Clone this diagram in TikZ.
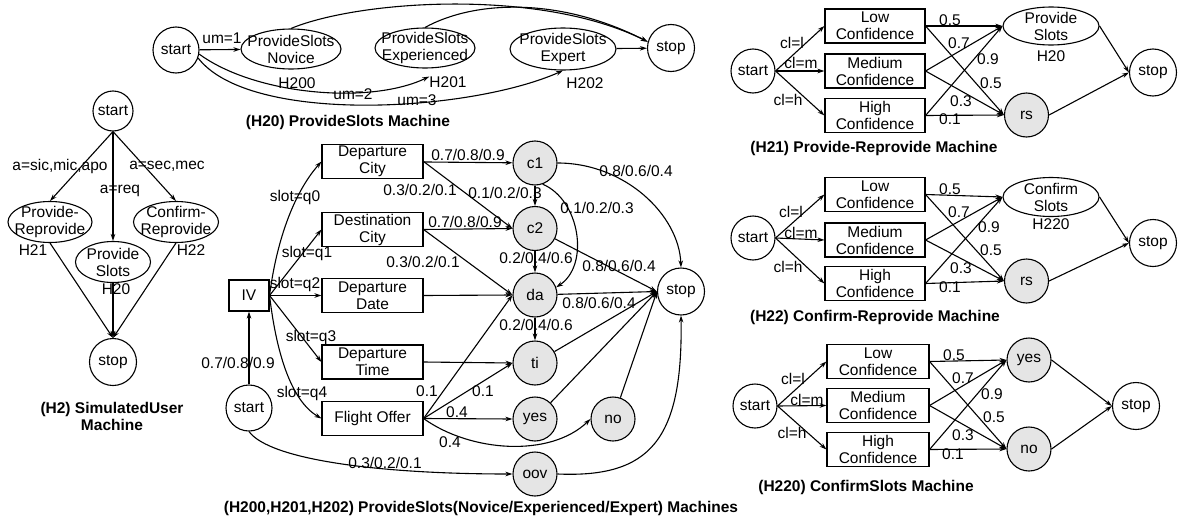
\documentclass[tikz,border=0pt]{standalone}
\usepackage{fontspec}
\setmainfont{Liberation Sans}
\usetikzlibrary{shapes.geometric, arrows.meta}
\definecolor{stategray}{gray}{0.9}

\begin{document}
\begin{tikzpicture}[
	x=1pt, y=-1pt,
	font=\fontsize{15.5}{17}\selectfont,
	nodes = {
		align = center
	},
	lines/.style={
		line width=1.1pt,
		>={Stealth[length=7pt,width=4.5pt]}
	},
	state/.style={
		circle,
		draw=black,
		line width=1.1pt,
		minimum size=44pt,
		inner sep=0pt
	},
	hit/.style={
		state,
		fill=stategray
	},
	sub/.style={
		ellipse,
		draw=black,
		line width=1.1pt,
		inner xsep=-9pt,
		inner ysep=-4pt
	},
	proc/.style={
		rectangle,
		draw=black,
		line width=1.1pt,
		minimum width=101pt,
		minimum height=34pt,
		inner sep=0pt
	},
	lbl/.style={
		inner sep=0pt
	},
	caption/.style={
		font=\fontsize{15.5}{17}\selectfont\bfseries
	},
	every label/.style={
		inner sep=0pt
	}
]
	\useasboundingbox (0,0) rectangle (1178,522);

	% (H2) simulated user
	\node[state, minimum size=40pt] (u_start) at (113,111) {start};
	\node[sub, minimum width=84pt, minimum height=41pt, label={[xshift=-17pt, yshift=-1pt]below:H21}] (u_pr) at (50,222) {Provide-\\Reprovide};
	\node[sub, minimum width=75pt, minimum height=41pt, label={[xshift=3pt]below:H20}] (u_ps) at (113,262) {Provide\\Slots};
	\node[sub, minimum width=85pt, minimum height=41pt, label={[xshift=15pt, yshift=-1pt]below:H22}] (u_cr) at (176,222) {Confirm-\\Reprovide};
	\node[state, minimum size=47pt] (u_stop) at (113,362) {stop};
	\node[caption] (u_title) at (112,416) {(H2) SimulatedUser\\Machine};

	\draw[lines,->] (u_start.south) -- (u_pr.north) node[lbl] at (60,166) {a=sic,mic,apo};
	\draw[lines,->] (u_start.south) -- (u_ps.north) node[lbl] at (120,191) {a=req};
	\draw[lines,->] (u_start.south) -- (u_cr.north) node[lbl] at (167,166) {a=sec,mec};
	\draw[lines,->] (u_pr.south) -- (u_stop.north);
	\draw[lines,->] (u_ps.south) -- (u_stop.north);
	\draw[lines,->] (u_cr.south) -- (u_stop.north);

	% (H20) provide slots
	\node[state, minimum size=46pt] (h_start) at (176,50) {start};
	\node[sub, minimum width=100pt, minimum height=40pt, label={[xshift=6pt, yshift=-8pt]below:H200}] (h_nov) at (291,49) {ProvideSlots\\Novice};
	\node[sub, minimum width=100pt, minimum height=40pt, label={[xshift=23pt, yshift=-8pt, name=h_exp_id]below:H201}] (h_exp) at (425,48) {ProvideSlots\\Experienced};
	\node[sub, minimum width=106pt, minimum height=42pt, label={[xshift=22pt, yshift=-7pt]below:H202}] (h_expert) at (563,49) {ProvideSlots\\Expert};
	\node[state, minimum size=47pt] (h_stop) at (671,48) {stop};
	\node[caption] (h_title) at (348,122) {(H20) ProvideSlots Machine};

	\draw[lines,->] (h_start) -- (h_nov) node[lbl] at (222,38) {um=1};
	\draw[lines,->] (h_start.-10) .. controls (255,95) and (370,105) .. (h_exp_id.north west) node[lbl] at (353,94) {um=2};
	\draw[lines,->] (h_start.-20) .. controls (250,125) and (470,112) .. (h_expert.south) node[lbl] at (417,100) {um=3};
	\draw[lines,->] (h_nov.north) .. controls (360,0) and (540,-12) .. (h_stop.165);
	\draw[lines,->] (h_exp.north) .. controls (475,0) and (560,-3) .. (h_stop.165);
	\draw[lines,->] (h_expert) -- (h_stop);

	% (H200,H201,H202) slot filling
	\node[proc, minimum width=40pt, minimum height=31pt] (p_iv) at (249,295.5) {IV};
	\node[state, minimum size=46pt] (p_start) at (249,408) {start};
	\node[proc] (p_depcity) at (372.5,161.5) {Departure\\City};
	\node[proc] (p_destcity) at (372.5,229.5) {Destination\\City};
	\node[proc] (p_depdate) at (372.5,295.5) {Departure\\Date};
	\node[proc] (p_deptime) at (372.5,362) {Departure\\Time};
	\node[proc] (p_offer) at (372.5,418.5) {Flight Offer};
	\node[hit] (p_c1) at (535,163) {c1};
	\node[hit] (p_c2) at (535,228.5) {c2};
	\node[hit] (p_da) at (535,295) {da};
	\node[hit] (p_ti) at (535,363) {ti};
	\node[hit] (p_yes) at (535,419) {yes};
	\node[hit] (p_no) at (613,419) {no};
	\node[hit] (p_oov) at (535,474) {oov};
	\node[state, minimum size=47pt] (p_stop) at (681,291.5) {stop};
	\node[caption] (p_title) at (481,508) {(H200,H201,H202) ProvideSlots(Novice/Experienced/Expert) Machines};

	\draw[lines,->] (p_start) -- (p_iv) node[lbl] at (238,363) {0.7/0.8/0.9};
	\draw[lines,->] (p_iv.east) .. controls (276,245) and (292,195) .. (p_depcity.west) node[lbl] at (295,197) {slot=q0};
	\draw[lines,->] (p_iv.east) -- (p_destcity.west) node[lbl] at (307,253) {slot=q1};
	\draw[lines,->] (p_iv.east) -- (p_depdate.west) node[lbl] at (295,284) {slot=q2};
	\draw[lines,->] (p_iv.east) -- (p_deptime.west) node[lbl] at (311,337) {slot=q3};
	\draw[lines,->] (p_iv.east) .. controls (276,350) and (290,400) .. (p_offer.west) node[lbl] at (302,393) {slot=q4};

	\draw[lines,->] (p_depcity) -- (p_c1) node[lbl] at (468,155) {0.7/0.8/0.9};
	\draw[lines,->] (p_depcity.east) -- (p_c2.west) node[lbl] at (420,190) {0.3/0.2/0.1};
	\draw[lines,->] (p_destcity.east) -- (p_c2.west) node[lbl] at (465,222) {0.7/0.8/0.9};
	\draw[lines,->] (p_destcity.east) -- (p_da.west) node[lbl] at (423,262) {0.3/0.2/0.1};
	\draw[lines,->] (p_depdate.east) -- (p_da.west);
	\draw[lines,->] (p_deptime.east) -- (p_ti.west);
	\draw[lines,->] (p_offer.east) -- (p_da.west) node[lbl] at (427,391) {0.1};
	\draw[lines,->] (p_offer.east) -- (p_ti.west) node[lbl] at (483,391) {0.1};
	\draw[lines,->] (p_offer.east) -- (p_yes.west) node[lbl] at (457,412) {0.4};
	\draw[lines,->] (p_offer.east) .. controls (470,452) and (550,458) .. (p_no.west) node[lbl] at (450,442) {0.4};

	\draw[lines,->] (p_c1) -- (p_c2) node[lbl] at (505,193) {0.1/0.2/0.3};
	\draw[lines,->] (p_c1.-70) .. controls (580,200) and (590,265) .. (p_da.20) node[lbl] at (597,208) {0.1/0.2/0.3};
	\draw[lines,->] (p_c1.east) .. controls (625,163) and (679,215) .. (p_stop.north) node[lbl] at (636,171) {0.8/0.6/0.4};
	\draw[lines,->] (p_c2) -- (p_da) node[lbl] at (536,258) {0.2/0.4/0.6};
	\draw[lines,->] (p_c2) -- (p_stop.west) node[lbl] at (619,266) {0.8/0.6/0.4};
	\draw[lines,->] (p_da) -- (p_stop.west) node[lbl] at (599,303) {0.8/0.6/0.4};
	\draw[lines,->] (p_da) -- (p_ti) node[lbl] at (536,325) {0.2/0.4/0.6};
	\draw[lines,->] (p_ti) -- (p_stop.west);
	\draw[lines,->] (p_yes) -- (p_stop.west);
	\draw[lines,->] (p_no) -- (p_stop.west);
	\draw[lines,->] (p_oov.east) .. controls (650,478) and (683,440) .. (p_stop.south);
	\draw[lines,->] (p_start.south) .. controls (270,460) and (380,474) .. (p_oov.west) node[lbl] at (385,463) {0.3/0.2/0.1};

	% (H21) provide-reprovide
	\node[state] (r1_start) at (753,71) {start};
	\node[proc, minimum width=100pt] (r1_low) at (875,26) {Low\\Confidence};
	\node[proc, minimum width=100pt] (r1_med) at (875,71) {Medium\\Confidence};
	\node[proc, minimum width=100pt] (r1_high) at (875,115.5) {High\\Confidence};
	\node[sub, minimum width=96pt, minimum height=38pt, label={[yshift=-5pt]below:H20}] (r1_ps) at (1051,26) {Provide\\Slots};
	\node[hit] (r1_rs) at (1026.5,115) {rs};
	\node[state, minimum size=47pt] (r1_stop) at (1153,72.5) {stop};
	\node[caption] (r1_title) at (874,148) {(H21) Provide-Reprovide Machine};

	\draw[lines,->] (r1_start.east) -- (r1_low.west) node[lbl] at (792,43) {cl=l};
	\draw[lines,->] (r1_start.east) -- (r1_med.west) node[lbl] at (801,63) {cl=m};
	\draw[lines,->] (r1_start.east) -- (r1_high.west) node[lbl] at (788,100) {cl=h};
	\draw[lines,->] (r1_low.east) -- (r1_ps.west) node[lbl] at (950,20) {0.5};
	\draw[lines,->] (r1_low.east) -- (r1_rs.west) node[lbl] at (991,83) {0.5};
	\draw[lines,->] (r1_med.east) -- (r1_ps.west) node[lbl] at (959,43) {0.7};
	\draw[lines,->] (r1_med.east) -- (r1_rs.west) node[lbl] at (961,101) {0.3};
	\draw[lines,->] (r1_high.east) -- (r1_ps.west) node[lbl] at (988,59) {0.9};
	\draw[lines,->] (r1_high.east) -- (r1_rs.west) node[lbl] at (950,119) {0.1};
	\draw[lines,->] (r1_ps.east) -- (r1_stop.west);
	\draw[lines,->] (r1_rs.east) -- (r1_stop.west);

	% (H22) confirm-reprovide
	\node[state] (r2_start) at (753,238) {start};
	\node[proc, minimum width=100pt] (r2_low) at (875,194.5) {Low\\Confidence};
	\node[proc, minimum width=100pt] (r2_med) at (875,240) {Medium\\Confidence};
	\node[proc, minimum width=100pt] (r2_high) at (875,283.5) {High\\Confidence};
	\node[sub, minimum width=96pt, minimum height=39pt, label={[yshift=-1pt]below:H220}] (r2_cs) at (1051,197) {Confirm\\Slots};
	\node[hit] (r2_rs) at (1026.5,281) {rs};
	\node[state, minimum size=47pt] (r2_stop) at (1153,243) {stop};
	\node[caption] (r2_title) at (875,317) {(H22) Confirm-Reprovide Machine};

	\draw[lines,->] (r2_start.east) -- (r2_low.west) node[lbl] at (791,212) {cl=l};
	\draw[lines,->] (r2_start.east) -- (r2_med.west) node[lbl] at (801,233) {cl=m};
	\draw[lines,->] (r2_start.east) -- (r2_high.west) node[lbl] at (788,267) {cl=h};
	\draw[lines,->] (r2_low.east) -- (r2_cs.west) node[lbl] at (950,189) {0.5};
	\draw[lines,->] (r2_low.east) -- (r2_rs.west) node[lbl] at (991,250) {0.5};
	\draw[lines,->] (r2_med.east) -- (r2_cs.west) node[lbl] at (959,212) {0.7};
	\draw[lines,->] (r2_med.east) -- (r2_rs.west) node[lbl] at (961,268) {0.3};
	\draw[lines,->] (r2_high.east) -- (r2_cs.west) node[lbl] at (989,227) {0.9};
	\draw[lines,->] (r2_high.east) -- (r2_rs.west) node[lbl] at (950,287) {0.1};
	\draw[lines,->] (r2_cs.east) -- (r2_stop.west);
	\draw[lines,->] (r2_rs.east) -- (r2_stop.west);

	% (H220) confirm slots
	\node[state] (r3_start) at (755,406) {start};
	\node[proc, minimum width=102pt] (r3_low) at (878,361.5) {Low\\Confidence};
	\node[proc, minimum width=102pt] (r3_med) at (878,405.5) {Medium\\Confidence};
	\node[proc, minimum width=102pt] (r3_high) at (878,449.5) {High\\Confidence};
	\node[hit] (r3_yes) at (1029,360) {yes};
	\node[hit] (r3_no) at (1029,449) {no};
	\node[state, minimum size=47pt] (r3_stop) at (1136,406) {stop};
	\node[caption] (r3_title) at (866,487) {(H220) ConfirmSlots Machine};

	\draw[lines,->] (r3_start.east) -- (r3_low.west) node[lbl] at (793,379) {cl=l};
	\draw[lines,->] (r3_start.east) -- (r3_med.west) node[lbl] at (807,400) {cl=m};
	\draw[lines,->] (r3_start.east) -- (r3_high.west) node[lbl] at (792,433) {cl=h};
	\draw[lines,->] (r3_low.east) -- (r3_yes.west) node[lbl] at (954,355) {0.5};
	\draw[lines,->] (r3_low.east) -- (r3_no.west) node[lbl] at (994,417) {0.5};
	\draw[lines,->] (r3_med.east) -- (r3_yes.west) node[lbl] at (963,378) {0.7};
	\draw[lines,->] (r3_med.east) -- (r3_no.west) node[lbl] at (963,435) {0.3};
	\draw[lines,->] (r3_high.east) -- (r3_yes.west) node[lbl] at (992,394) {0.9};
	\draw[lines,->] (r3_high.east) -- (r3_no.west) node[lbl] at (953,454) {0.1};
	\draw[lines,->] (r3_yes.east) -- (r3_stop.west);
	\draw[lines,->] (r3_no.east) -- (r3_stop.west);
\end{tikzpicture}
\end{document}
